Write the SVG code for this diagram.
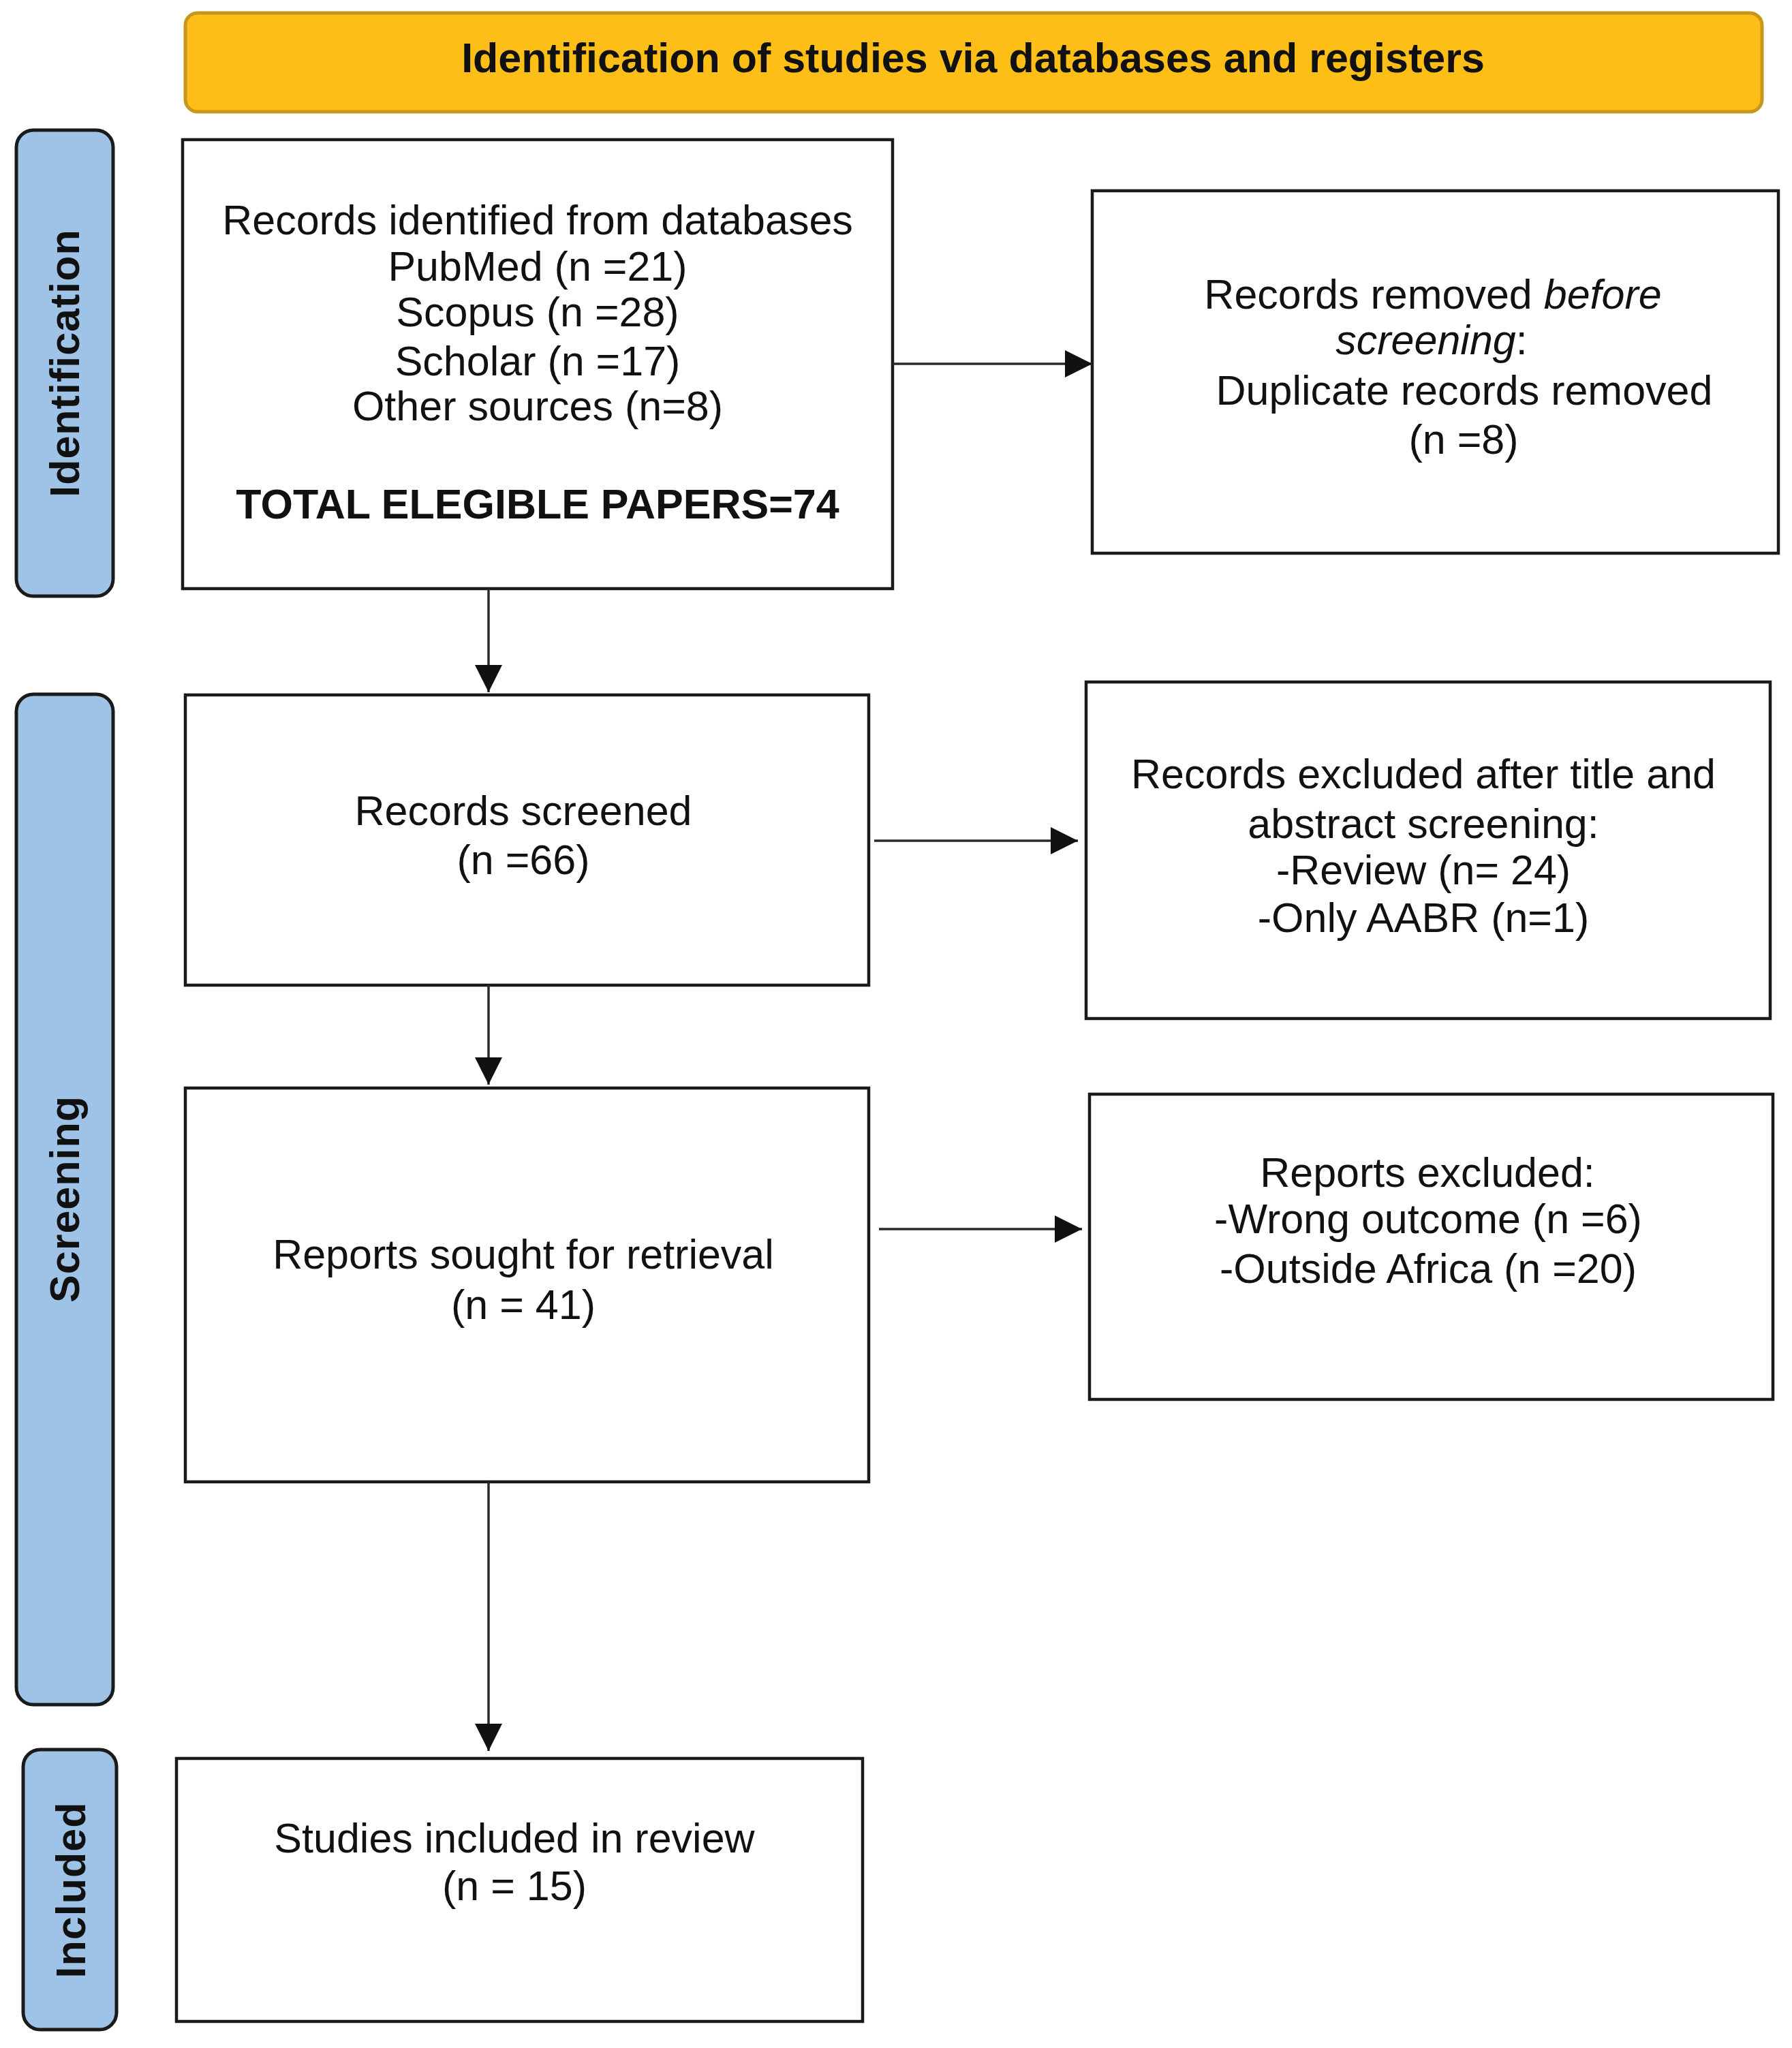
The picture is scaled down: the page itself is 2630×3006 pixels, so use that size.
<svg xmlns="http://www.w3.org/2000/svg" width="2630" height="3006" viewBox="0 0 2630 3006">
<style>
.box{fill:#ffffff;stroke:#1a1a1a;stroke-width:4.5}
.phase{fill:#9fc3e7;stroke:#1a1a1a;stroke-width:5}
.title{fill:#fdbf17;stroke:#c8961a;stroke-width:5}
.t{font-family:"Liberation Sans",Arial,Helvetica,sans-serif;font-size:61px;fill:#111111;text-anchor:middle}
.b{font-weight:bold}
.conn{stroke:#2a2a2a;stroke-width:3.5;fill:none;marker-end:url(#ah)}
</style>
<defs>
<marker id="ah" markerUnits="userSpaceOnUse" markerWidth="40" markerHeight="40" refX="40" refY="20" orient="auto">
<path d="M0,0 L40,20 L0,40 z" fill="#111111"/>
</marker>
</defs>
<rect width="2630" height="3006" fill="#ffffff"/>
<g id="title-bar">
<rect class="title" x="272" y="19" width="2314" height="145" rx="18"/>
<text class="t b" x="1428" y="106">Identification of studies via databases and registers</text>
</g>
<g id="phase-identification">
<rect class="phase" x="24" y="191" width="142" height="684" rx="25"/>
<text class="t b" transform="translate(116,533) rotate(-90)" letter-spacing="1">Identification</text>
</g>
<g id="phase-screening">
<rect class="phase" x="24" y="1019" width="142" height="1483" rx="25"/>
<text class="t b" transform="translate(116,1760) rotate(-90)" letter-spacing="1">Screening</text>
</g>
<g id="phase-included">
<rect class="phase" x="34" y="2568" width="137" height="411" rx="25"/>
<text class="t b" transform="translate(125,2774) rotate(-90)" letter-spacing="1">Included</text>
</g>
<g id="records-identified">
<rect class="box" x="268" y="205" width="1042" height="659"/>
<text class="t" x="789" y="344">Records identified from databases</text>
<text class="t" x="789" y="412">PubMed (n =21)</text>
<text class="t" x="789" y="479">Scopus (n =28)</text>
<text class="t" x="789" y="551">Scholar (n =17)</text>
<text class="t" x="789" y="617">Other sources (n=8)</text>
<text class="t b" x="789" y="761">TOTAL ELEGIBLE PAPERS=74</text>
</g>
<g id="records-removed">
<rect class="box" x="1603" y="280" width="1007" height="532"/>
<text class="t" x="2103" y="453">Records removed <tspan font-style="italic">before</tspan></text>
<text class="t" x="2101" y="520"><tspan font-style="italic">screening</tspan>:</text>
<text class="t" x="2149" y="594">Duplicate records removed</text>
<text class="t" x="2148" y="666">(n =8)</text>
</g>
<g id="records-screened">
<rect class="box" x="272" y="1020" width="1003" height="426"/>
<text class="t" x="768" y="1211">Records screened</text>
<text class="t" x="768" y="1283">(n =66)</text>
</g>
<g id="records-excluded">
<rect class="box" x="1594" y="1001" width="1004" height="494"/>
<text class="t" x="2089" y="1157">Records excluded after title and</text>
<text class="t" x="2089" y="1230">abstract screening:</text>
<text class="t" x="2089" y="1298">-Review (n= 24)</text>
<text class="t" x="2089" y="1368">-Only AABR (n=1)</text>
</g>
<g id="reports-sought">
<rect class="box" x="272" y="1597" width="1003" height="578"/>
<text class="t" x="768" y="1862">Reports sought for retrieval</text>
<text class="t" x="768" y="1936">(n = 41)</text>
</g>
<g id="reports-excluded">
<rect class="box" x="1599" y="1606" width="1003" height="448"/>
<text class="t" x="2095" y="1742">Reports excluded:</text>
<text class="t" x="2096" y="1810">-Wrong outcome (n =6)</text>
<text class="t" x="2096" y="1883">-Outside Africa (n =20)</text>
</g>
<g id="studies-included">
<rect class="box" x="259" y="2581" width="1007" height="386"/>
<text class="t" x="755" y="2719">Studies included in review</text>
<text class="t" x="755" y="2789">(n = 15)</text>
</g>
<g id="connectors">
<line class="conn" x1="1310" y1="534" x2="1603" y2="534"/>
<line class="conn" x1="717" y1="864" x2="717" y2="1016"/>
<line class="conn" x1="1283" y1="1234" x2="1582" y2="1234"/>
<line class="conn" x1="717" y1="1446" x2="717" y2="1592"/>
<line class="conn" x1="1290" y1="1804" x2="1588" y2="1804"/>
<line class="conn" x1="717" y1="2175" x2="717" y2="2570"/>
</g>
</svg>
